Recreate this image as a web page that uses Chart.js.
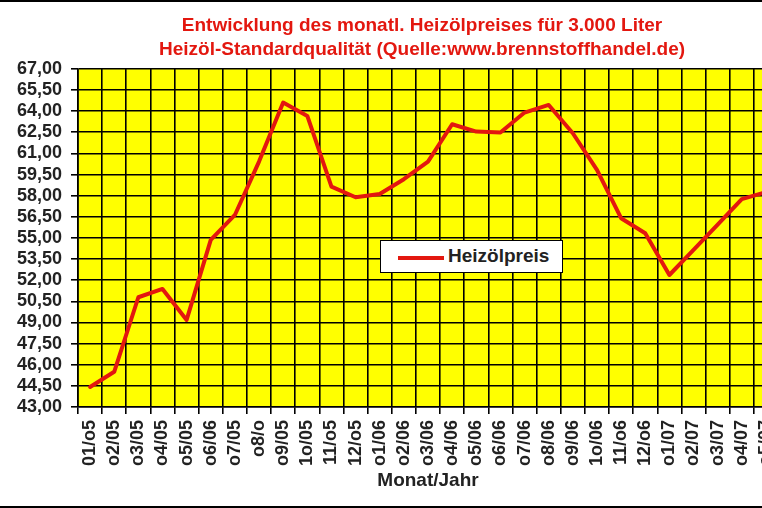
<!DOCTYPE html>
<html>
<head>
<meta charset="utf-8">
<script src="https://cdn.jsdelivr.net/npm/chart.js@4.4.1/dist/chart.umd.min.js"></script>
<style>
    body { margin: 0; background: #fff; }
    #rahmen {
        position: relative;
        width: 762px;
        height: 504px;
        overflow: hidden;
        border-top: 2px solid #000;
        border-bottom: 2px solid #000;
        background: #fff;
    }
    #grafico { position: absolute; left: 0; top: 0; }
    #leyenda {
        position: absolute;
        left: 380px;
        top: 238px;
        width: 181px;
        height: 31px;
        background: #fff;
        border: 1px solid #000;
        font: bold 19px "Liberation Sans", Arial, sans-serif;
        color: #222;
    }
    #leyenda .linea {
        position: absolute;
        left: 17px;
        top: 15px;
        width: 46px;
        height: 4px;
        background: #e3170f;
    }
    #leyenda .texto { position: absolute; left: 67px; top: 4px; }
</style>
</head>
<body>
<div id="rahmen">
    <canvas id="grafico" width="844" height="504"></canvas>
    <div id="leyenda"><span class="linea"></span><span class="texto">Heizölpreis</span></div>
</div>
<script>
// Monate (so beschriftet wie im Original)
const monate = ['01/o5', 'o2/05', 'o3/05', 'o4/05', 'o5/05', 'o6/06', 'o7/05', 'o8/o', 'o9/05', '1o/05',
    '11/o5', '12/o5', 'o1/06', 'o2/06', 'o3/06', 'o4/06', 'o5/06', 'o6/06', 'o7/06', 'o8/06',
    'o9/06', '1o/06', '11/o6', '12/o6', 'o1/07', 'o2/07', 'o3/07', 'o4/07', 'o5/07'];

// Heizölpreis je Monat
const heizoelpreis = [44.42, 45.5, 50.79, 51.38, 49.18, 54.86, 56.63, 60.42, 64.61, 63.66,
    58.64, 57.89, 58.12, 59.17, 60.42, 63.07, 62.55, 62.48, 63.9, 64.44,
    62.43, 59.83, 56.4, 55.33, 52.37, 54.15, 55.94, 57.75, 58.25];

// Werte der y-Achse
const yTicks = [43, 44.5, 46, 47.5, 49, 50.5, 52, 53.5, 55, 56.5, 58, 59.5, 61, 62.5, 64, 65.5, 67];

const rot = '#e3170f';
const grau = '#222';
const schrift = '"Liberation Sans", Arial, sans-serif';

// gelber Hintergrund der Zeichenfläche
const fondoAmarillo = {
    id: 'fondoAmarillo',
    beforeDraw(chart) {
        const { ctx, chartArea } = chart;
        ctx.save();
        ctx.fillStyle = '#ffff00';
        ctx.fillRect(chartArea.left, chartArea.top, chartArea.right - chartArea.left, chartArea.bottom - chartArea.top);
        ctx.restore();
    }
};

const ctx = document.getElementById('grafico').getContext('2d');

const chart = new Chart(ctx, {
    type: 'line',
    data: {
        labels: monate,
        datasets: [{
            label: 'Heizölpreis',
            data: heizoelpreis,
            borderColor: rot,
            borderWidth: 4,
            pointRadius: 0,
            tension: 0,
            borderCapStyle: 'round',
            borderJoinStyle: 'round'
        }]
    },
    options: {
        responsive: false,
        animation: false,
        devicePixelRatio: 1,
        layout: { padding: 0 },
        plugins: {
            legend: { display: false },
            tooltip: { enabled: false },
            title: {
                display: true,
                text: ['Entwicklung des monatl. Heizölpreises für 3.000 Liter',
                    'Heizöl-Standardqualität (Quelle:www.brennstoffhandel.de)'],
                color: rot,
                font: { family: schrift, size: 19, weight: 'bold', lineHeight: 1.26 },
                padding: { top: 12, bottom: 7 }
            }
        },
        scales: {
            x: {
                offset: true,
                grid: { offset: true, color: '#000', lineWidth: 1.6, tickLength: 7 },
                border: { color: '#000', width: 1.6 },
                ticks: {
                    autoSkip: false,
                    minRotation: 90,
                    maxRotation: 90,
                    padding: 6,
                    color: grau,
                    font: { family: schrift, size: 18, weight: 'bold' }
                },
                title: {
                    display: true,
                    text: 'Monat/Jahr',
                    color: grau,
                    font: { family: schrift, size: 19, weight: 'bold' },
                    padding: { top: 0, bottom: 14 }
                },
                afterFit(scale) { scale.height = 99; }
            },
            y: {
                min: 43,
                max: 67,
                afterBuildTicks(scale) { scale.ticks = yTicks.map(v => ({ value: v })); },
                grid: { color: '#000', lineWidth: 1.6, tickLength: 7 },
                border: { color: '#000', width: 1.6 },
                ticks: {
                    autoSkip: false,
                    padding: 9,
                    color: grau,
                    font: { family: schrift, size: 18, weight: 'bold' },
                    callback: (v) => v.toFixed(2).replace('.', ',')
                },
                afterFit(scale) { scale.width = 78; }
            },
            // leere Achse rechts, damit die Zeichenfläche rechts abgeschnitten wird wie im Original
            rechts: {
                type: 'linear',
                position: 'right',
                grid: { display: false, drawTicks: false },
                border: { display: false },
                ticks: { display: false },
                afterFit(scale) { scale.width = 66; }
            }
        }
    },
    plugins: [fondoAmarillo]
});
</script>
</body>
</html>
